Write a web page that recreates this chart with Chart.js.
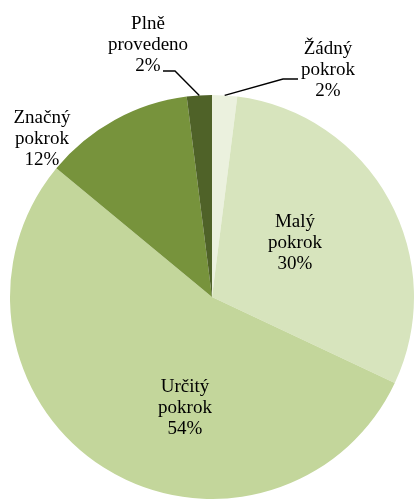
<!DOCTYPE html>
<html>
<head>
<meta charset="utf-8">
<script src="https://cdn.jsdelivr.net/npm/chart.js@4.4.1/dist/chart.umd.min.js"></script>
<style>
  html, body { margin: 0; padding: 0; background: #fff; overflow: hidden; }
  #chart { display: block; }
</style>
</head>
<body>
<canvas id="chart" width="414" height="499"></canvas>
<script>
// Slices clockwise from 12 o'clock
const categories = ['Žádný pokrok', 'Malý pokrok', 'Určitý pokrok', 'Značný pokrok', 'Plně provedeno'];
const labelLines = [['Žádný', 'pokrok'], ['Malý', 'pokrok'], ['Určitý', 'pokrok'], ['Značný', 'pokrok'], ['Plně', 'provedeno']];
const shares = [2, 30, 54, 12, 2];
const sliceColors = ['#ebf1de', '#d7e4bd', '#c3d69b', '#77933c', '#4f6228'];

// Where each label sits, relative to the pie centre (px). Leader = elbow + end for small slices
const labelSpots = [
    { dx: 116, dy: -222, leader: [[71, -218], [86, -218]] },
    { dx: 83, dy: -49 },
    { dx: -27, dy: 116 },
    { dx: -170, dy: -153.5 },
    { dx: -64, dy: -247, leader: [[-37, -226], [-49, -226]] }
];

const pieLabels = {
    id: 'pieLabels',
    afterDatasetsDraw(chart) {
        const ctx = chart.ctx;
        const arcs = chart.getDatasetMeta(0).data;
        ctx.save();
        ctx.font = '19px "Liberation Serif", "Times New Roman", serif';
        ctx.fillStyle = '#000';
        ctx.strokeStyle = '#000';
        ctx.lineWidth = 1.4;
        ctx.textAlign = 'center';
        ctx.textBaseline = 'alphabetic';
        arcs.forEach((arc, i) => {
            const p = arc.getProps(['x', 'y', 'startAngle', 'endAngle', 'outerRadius'], true);
            const spot = labelSpots[i];
            const lines = labelLines[i].concat([shares[i] + '%']);
            const x = p.x + spot.dx;
            const y = p.y + spot.dy;
            lines.forEach((t, k) => ctx.fillText(t, x, y + (k - 1) * 21));
            if (spot.leader) {
                const mid = (p.startAngle + p.endAngle) / 2;
                ctx.beginPath();
                ctx.moveTo(p.x + Math.cos(mid) * p.outerRadius, p.y + Math.sin(mid) * p.outerRadius);
                spot.leader.forEach(pt => ctx.lineTo(p.x + pt[0], p.y + pt[1]));
                ctx.stroke();
            }
        });
        ctx.restore();
    }
};

new Chart(document.getElementById('chart'), {
    type: 'pie',
    data: {
        labels: categories,
        datasets: [{
            data: shares,
            backgroundColor: sliceColors,
            borderWidth: 0
        }]
    },
    options: {
        responsive: false,
        devicePixelRatio: 1,
        animation: false,
        layout: { padding: { left: 10, top: 95, right: 0, bottom: 0 } },
        plugins: {
            legend: { display: false },
            tooltip: { enabled: false }
        }
    },
    plugins: [pieLabels]
});
</script>
</body>
</html>
